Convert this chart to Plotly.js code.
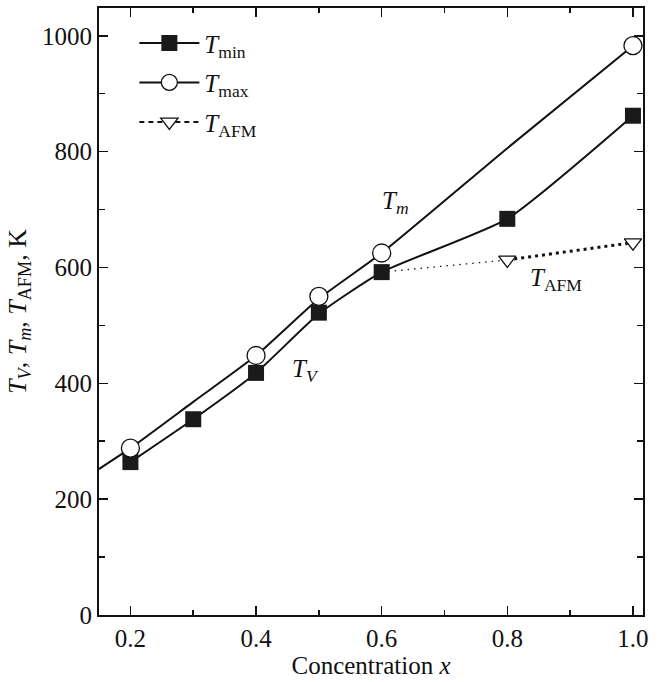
<!DOCTYPE html>
<html>
<head>
<meta charset="utf-8">
<script src="https://cdn.plot.ly/plotly-3.0.1.min.js"></script>
<style>html,body{margin:0;padding:0;background:#fff;}#chart{width:665px;height:682px;}</style>
</head>
<body>
<div id="chart"></div>
<script>
// Measured points
const tminX = [0.2, 0.3, 0.4, 0.5, 0.6, 0.8, 1.0];
const tminY = [264, 338, 418, 522, 592, 684, 862];
const tmaxX = [0.2, 0.4, 0.5, 0.6, 1.0];
const tmaxY = [288, 448, 550, 625, 983];
const tafmX = [0.8, 1.0];
const tafmY = [613, 643];
// Fitted curves
const tmaxCurveX = [0.15, 0.2, 0.3, 0.4, 0.5, 0.6, 0.8, 1.0];
const tmaxCurveY = [252, 288, 368, 448, 546, 625, 806, 983];
const tminCurveX = [0.2, 0.3, 0.4, 0.5, 0.6, 0.8, 1.0];
const tminCurveY = [264, 338, 418, 520, 592, 684, 862];
const afmLinkX = [0.6, 0.8];
const afmLinkY = [592, 613];
// Labels
const xTickVals = [0.2, 0.4, 0.6, 0.8, 1.0];
const xTickText = ['0.2', '0.4', '0.6', '0.8', '1.0'];
const yTickVals = [0, 200, 400, 600, 800, 1000];

const FONT = '"Liberation Serif", "Times New Roman", Times, serif';
const traces = [
  {x: tmaxCurveX, y: tmaxCurveY, mode: 'lines', line: {color: '#111', width: 2, shape: 'spline', smoothing: 0.6}, showlegend: false, hoverinfo: 'skip'},
  {x: tminCurveX, y: tminCurveY, mode: 'lines', line: {color: '#111', width: 2, shape: 'spline', smoothing: 0.5}, showlegend: false, hoverinfo: 'skip'},
  {x: afmLinkX, y: afmLinkY, mode: 'lines', line: {color: '#111', width: 1.3, dash: '1.5px,5px'}, showlegend: false, hoverinfo: 'skip'},
  {x: tafmX, y: tafmY, mode: 'lines', line: {color: '#111', width: 3, dash: '3px,4px'}, showlegend: false, hoverinfo: 'skip'},
  {x: tminX, y: tminY, mode: 'markers', marker: {symbol: 'square', size: 16, color: '#1a1a1a', line: {width: 0}}, showlegend: false},
  {x: tmaxX, y: tmaxY, mode: 'markers', marker: {symbol: 'circle', size: 18, color: '#fff', line: {color: '#111', width: 1.3}}, showlegend: false},
  {x: tafmX, y: tafmY, mode: 'markers', marker: {symbol: 'triangle-down', size: 15, color: '#fff', line: {color: '#111', width: 1.3}}, showlegend: false},
  // legend entries
  {x: [null], y: [null], name: '<i>T</i><sub>min</sub>', legendgroup: 'a', mode: 'lines+markers', line: {color: '#111', width: 2}, marker: {symbol: 'square', size: 16, color: '#1a1a1a'}},
  {x: [null], y: [null], name: '<i>T</i><sub>max</sub>', legendgroup: 'b', mode: 'lines+markers', line: {color: '#111', width: 2}, marker: {symbol: 'circle', size: 18, color: '#fff', line: {color: '#111', width: 1.3}}},
  {x: [null], y: [null], name: '<i>T</i><sub>AFM</sub>', legendgroup: 'c', mode: 'lines+markers', line: {color: '#111', width: 2, dash: '5px,4px'}, marker: {symbol: 'triangle-down', size: 15, color: '#fff', line: {color: '#111', width: 1.3}}}
];

const axisCommon = {
  showline: true, linecolor: '#111', linewidth: 2, mirror: 'ticks',
  ticks: 'inside', ticklen: 9, tickwidth: 1.5, tickcolor: '#111',
  showgrid: false, zeroline: false,
  tickfont: {family: FONT, size: 25, color: '#111'}
};

const layout = {
  width: 665, height: 682,
  margin: {l: 99, r: 22, t: 8, b: 67},
  paper_bgcolor: '#fff', plot_bgcolor: '#fff',
  font: {family: FONT, size: 24, color: '#111'},
  xaxis: Object.assign({}, axisCommon, {
    range: [0.15, 1.016], tickvals: xTickVals, ticktext: xTickText,
    minor: {dtick: 0.1, tick0: 0, ticks: 'inside', ticklen: 5, tickwidth: 1.5, tickcolor: '#111'},
    title: {text: 'Concentration <i>x</i>', font: {family: FONT, size: 25, color: '#111'}, standoff: 4}
  }),
  yaxis: Object.assign({}, axisCommon, {
    range: [0, 1048], tickvals: yTickVals,
    minor: {dtick: 100, tick0: 0, ticks: 'inside', ticklen: 6, tickwidth: 1.5, tickcolor: '#111'},
    title: {text: '<i>T</i><sub><i>V</i></sub>, <i>T</i><sub><i>m</i></sub>, <i>T</i><sub>AFM</sub>, K', font: {family: FONT, size: 26, color: '#111'}, standoff: 8}
  }),
  legend: {x: 0.065, y: 0.98, xanchor: 'left', yanchor: 'top', bgcolor: 'rgba(0,0,0,0)', font: {family: FONT, size: 25, color: '#111'}, tracegroupgap: 4, itemwidth: 60},
  annotations: [
    {x: 0.622, y: 712, xref: 'x', yref: 'y', text: '<i>T</i><sub><i>m</i></sub>', showarrow: false, font: {family: FONT, size: 25, color: '#111'}},
    {x: 0.478, y: 423, xref: 'x', yref: 'y', text: '<i>T</i><sub><i>V</i></sub>', showarrow: false, font: {family: FONT, size: 25, color: '#111'}},
    {x: 0.878, y: 579, xref: 'x', yref: 'y', text: '<i>T</i><sub>AFM</sub>', showarrow: false, font: {family: FONT, size: 25, color: '#111'}}
  ]
};

Plotly.newPlot('chart', traces, layout, {displayModeBar: false, staticPlot: true});
</script>
</body>
</html>
